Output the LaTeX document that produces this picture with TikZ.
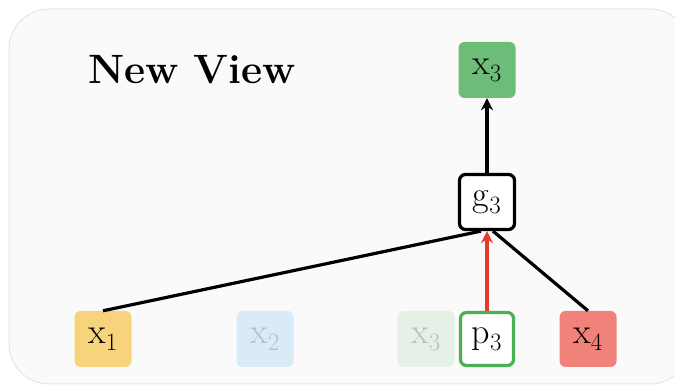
\documentclass[tikz,border=0pt]{standalone}
\usetikzlibrary{arrows.meta}
\definecolor{bgfill}{HTML}{FAFAFA}
\definecolor{bgline}{HTML}{E6E6E6}
\definecolor{cyel}{HTML}{F7D47C}
\definecolor{cblue}{HTML}{D9EBF7}
\definecolor{cpale}{HTML}{E5F1E6}
\definecolor{cgreen}{HTML}{6DBC78}
\definecolor{cgborder}{HTML}{4CAF50}
\definecolor{cred}{HTML}{F0827A}
\definecolor{carrow}{HTML}{E8382B}
\definecolor{cfade}{HTML}{BDBDBD}
\begin{document}
\begin{tikzpicture}[x=1pt,y=-1pt,
  tok/.style={rounded corners=6pt, minimum width=57pt, minimum height=56pt, inner sep=0pt,
    font=\fontsize{36}{38}\selectfont},
  conn/.style={line width=3.2pt},
  arr/.style={line width=3.2pt, -{Stealth[length=12pt,width=12pt]}}]
\useasboundingbox (0,0) rectangle (675,387);
\draw[bgline, fill=bgfill, line width=1pt, rounded corners=40pt] (9,9) rectangle (690,384);
\node[font=\fontsize{41}{44}\selectfont\bfseries] (title) at (192,70) {New View};
\node[tok, fill=cgreen] (xtop) at (487,70) {x$_3$};
\node[tok, draw=black, line width=3.2pt, fill=white, minimum width=55pt, minimum height=55pt] (g) at (487,202) {g$_3$};
\node[tok, fill=cyel] (x1) at (103,339) {x$_1$};
\node[tok, fill=cblue, text=cfade] (x2) at (265,339) {x$_2$};
\node[tok, fill=cpale, text=cfade] (x3) at (426,339) {x$_3$};
\node[tok, draw=cgborder, line width=3.2pt, fill=white, minimum width=53pt, minimum height=53pt] (p3) at (487,339) {p$_3$};
\node[tok, fill=cred] (x4) at (588,339) {x$_4$};
\draw[arr] (g.north) -- (xtop.south);
\draw[conn] (x1.north) -- ([xshift=-6pt]g.south);
\draw[conn] (x4.north) -- ([xshift=6pt]g.south);
\draw[arr, carrow] (p3.north) -- (g.south);
\end{tikzpicture}
\end{document}
